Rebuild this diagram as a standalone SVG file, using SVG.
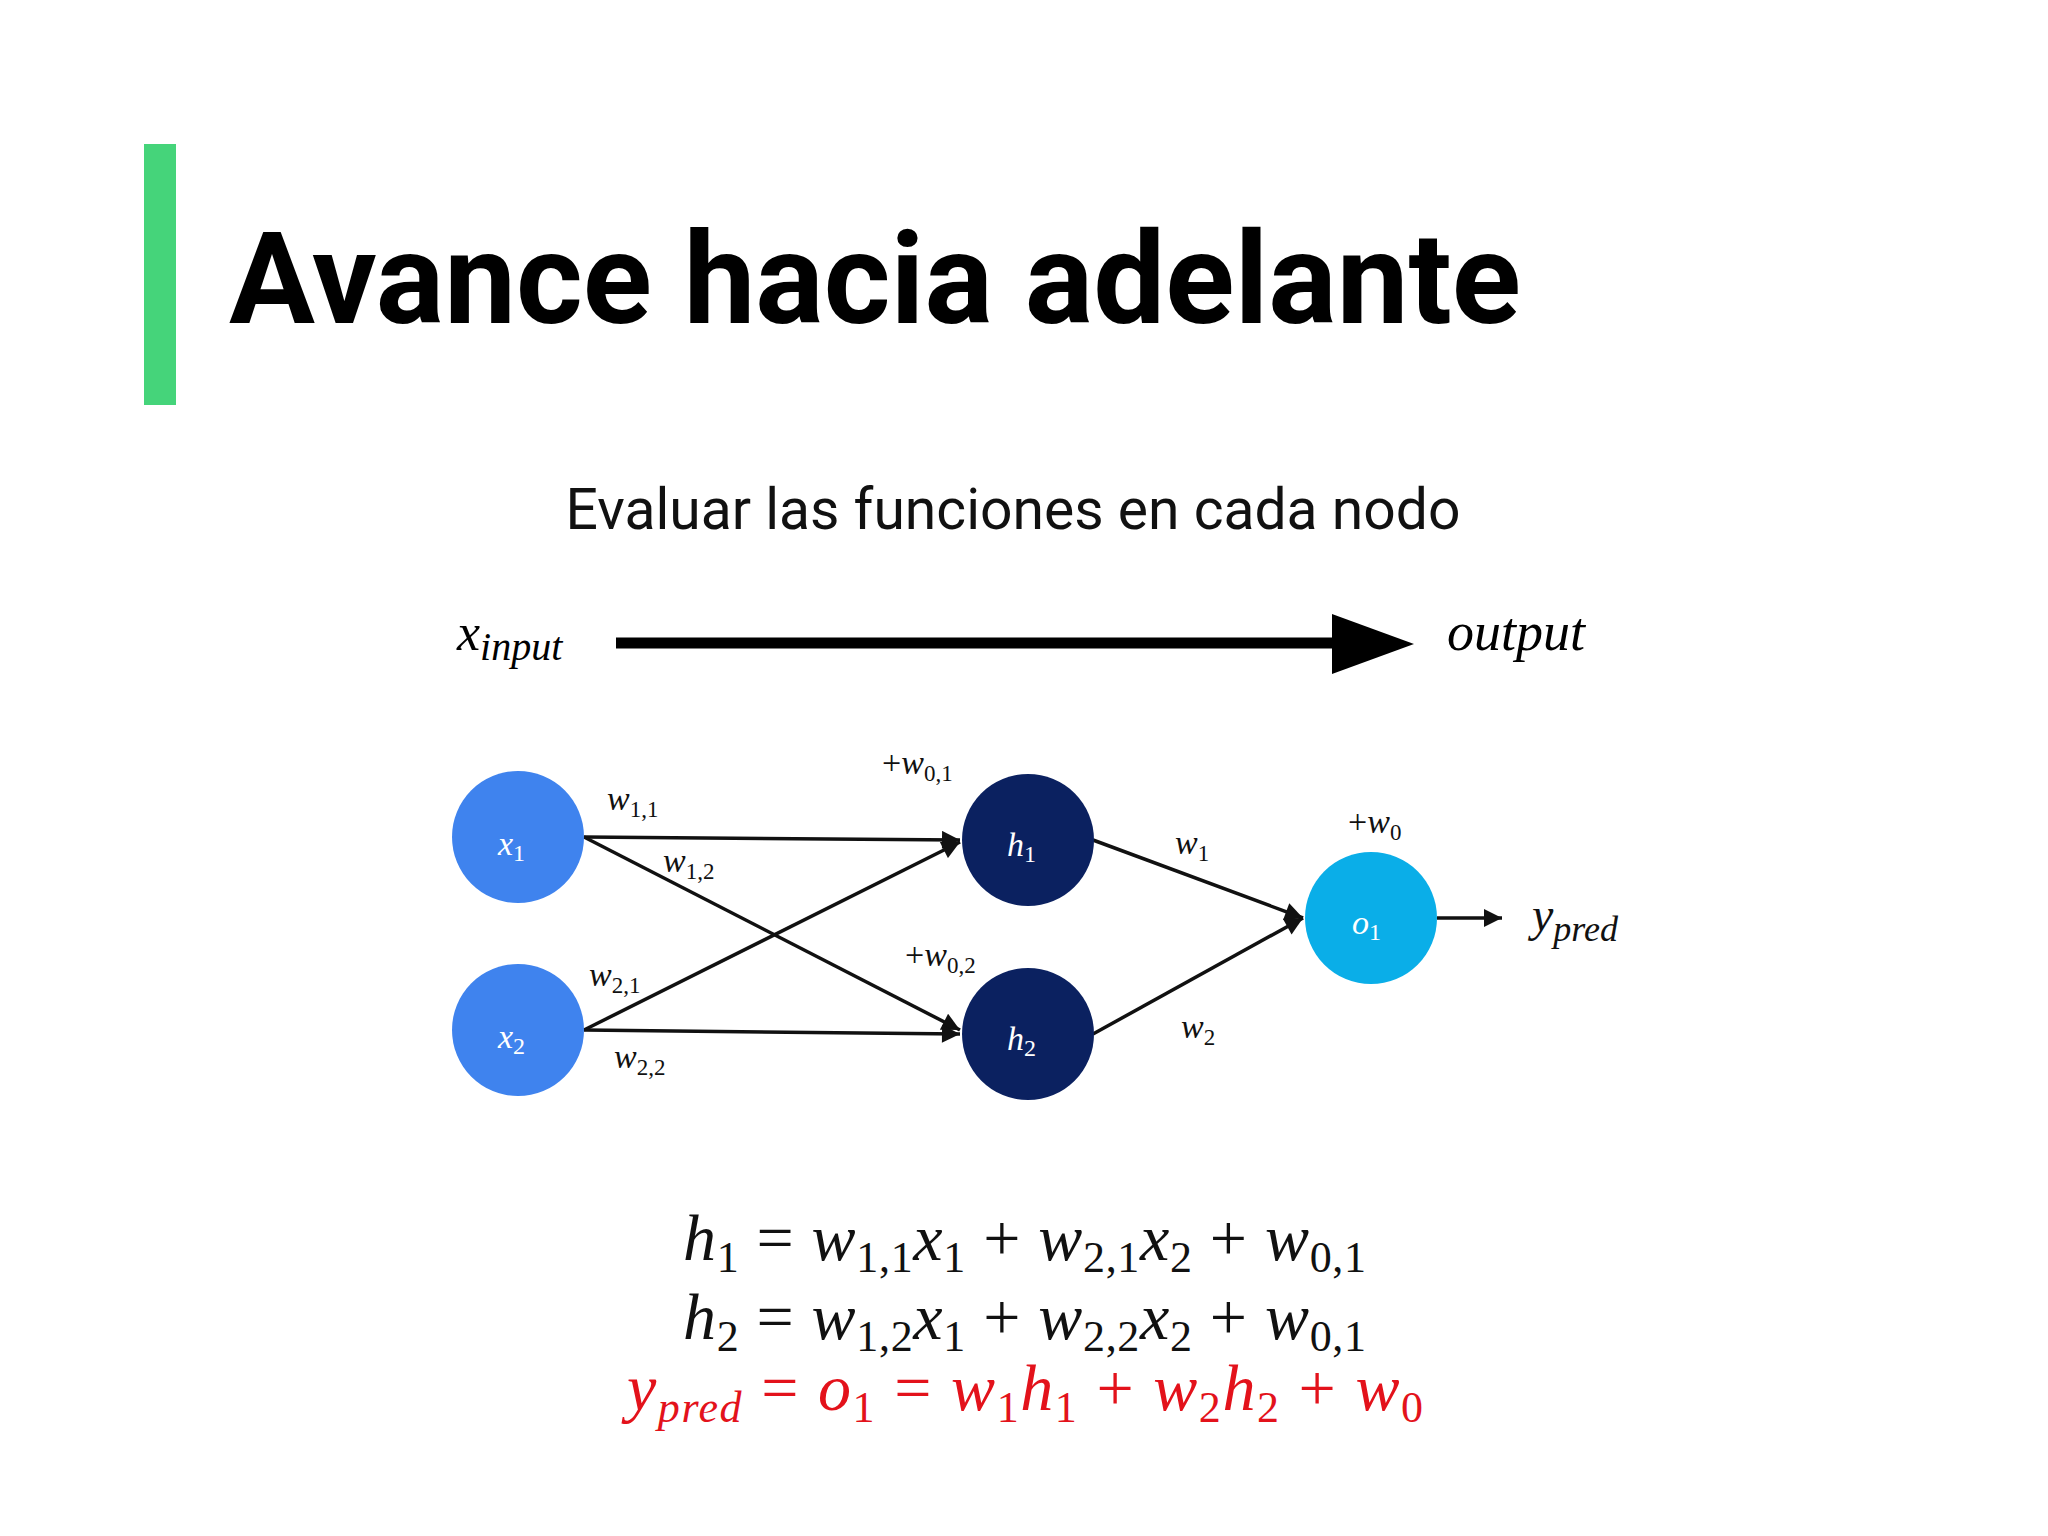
<svg xmlns="http://www.w3.org/2000/svg" width="2048" height="1536" viewBox="0 0 2048 1536">
<style>
.m{font-family:"Liberation Serif","DejaVu Serif",serif;font-style:italic}
.n{font-style:normal}
.lbl{font-size:34px;fill:#111}
.nl{font-size:34px;fill:#fff}
.eq{font-size:66px;fill:#111}
.e{stroke:#111;stroke-width:3.5;fill:none;marker-end:url(#ah)}
</style>
<defs>
<marker id="ah" viewBox="0 0 10 10" refX="10" refY="5" markerWidth="20" markerHeight="18" markerUnits="userSpaceOnUse" orient="auto"><path d="M0,0L10,5L0,10z" fill="#111"/></marker>
</defs>
<rect width="2048" height="1536" fill="#fff"/>
<rect x="144" y="144" width="32" height="261" fill="#45d47a"/>
<text x="229" y="323" font-family="Roboto,'Liberation Sans',sans-serif" font-weight="bold" font-size="128" fill="#000">Avance hacia adelante</text>
<text x="1013" y="529" text-anchor="middle" font-family="Roboto,'Liberation Sans',sans-serif" font-size="57" fill="#111">Evaluar las funciones en cada nodo</text>
<text x="457" y="650" class="m" font-size="52">x<tspan font-size="40" dy="10">input</tspan></text>
<line x1="616" y1="643" x2="1340" y2="643" stroke="#000" stroke-width="11"/>
<path d="M1332,614L1414,644L1332,674z" fill="#000"/>
<text x="1447" y="650" class="m" font-size="54">output</text>
<g id="connectors">
<line class="e" x1="584" y1="837" x2="960" y2="840"/>
<line class="e" x1="584" y1="837" x2="960" y2="1030"/>
<line class="e" x1="584" y1="1030" x2="960" y2="842"/>
<line class="e" x1="584" y1="1030" x2="960" y2="1034"/>
<line class="e" x1="1093" y1="840" x2="1303" y2="918"/>
<line class="e" x1="1093" y1="1034" x2="1303" y2="918"/>
<line class="e" x1="1437" y1="918" x2="1502" y2="918"/>
</g>
<g class="m lbl">
<text x="607" y="810">w<tspan class="n" font-size="23" dy="7">1,1</tspan></text>
<text x="663" y="872">w<tspan class="n" font-size="23" dy="7">1,2</tspan></text>
<text x="589" y="986">w<tspan class="n" font-size="23" dy="7">2,1</tspan></text>
<text x="614" y="1068">w<tspan class="n" font-size="23" dy="7">2,2</tspan></text>
<text x="882" y="774"><tspan class="n">+</tspan>w<tspan class="n" font-size="23" dy="7">0,1</tspan></text>
<text x="905" y="966"><tspan class="n">+</tspan>w<tspan class="n" font-size="23" dy="7">0,2</tspan></text>
<text x="1175" y="854">w<tspan class="n" font-size="23" dy="7">1</tspan></text>
<text x="1181" y="1038">w<tspan class="n" font-size="23" dy="7">2</tspan></text>
<text x="1348" y="833"><tspan class="n">+</tspan>w<tspan class="n" font-size="23" dy="7">0</tspan></text>
<text x="1532" y="931" font-size="48">y<tspan font-size="36" dy="10">pred</tspan></text>
</g>
<g id="x1"><circle cx="518" cy="837" r="66" fill="#3f83ee"/><text class="m nl" x="498" y="855">x<tspan class="n" font-size="24" dy="6">1</tspan></text></g>
<g id="x2"><circle cx="518" cy="1030" r="66" fill="#3f83ee"/><text class="m nl" x="498" y="1048">x<tspan class="n" font-size="24" dy="6">2</tspan></text></g>
<g id="h1"><circle cx="1028" cy="840" r="66" fill="#0b2160"/><text class="m nl" x="1007" y="856">h<tspan class="n" font-size="24" dy="6">1</tspan></text></g>
<g id="h2"><circle cx="1028" cy="1034" r="66" fill="#0b2160"/><text class="m nl" x="1007" y="1050">h<tspan class="n" font-size="24" dy="6">2</tspan></text></g>
<g id="o1"><circle cx="1371" cy="918" r="66" fill="#0aaee8"/><text class="m nl" x="1352" y="934">o<tspan class="n" font-size="24" dy="6">1</tspan></text></g>
<g class="m eq">
<text x="683" y="1260" textLength="683">h<tspan class="n" font-size="44" dy="12">1</tspan><tspan class="n" dy="-12"> = </tspan>w<tspan class="n" font-size="44" dy="12">1,1</tspan><tspan dy="-12">x</tspan><tspan class="n" font-size="44" dy="12">1</tspan><tspan class="n" dy="-12"> + </tspan>w<tspan class="n" font-size="44" dy="12">2,1</tspan><tspan dy="-12">x</tspan><tspan class="n" font-size="44" dy="12">2</tspan><tspan class="n" dy="-12"> + </tspan>w<tspan class="n" font-size="44" dy="12">0,1</tspan></text>
<text x="683" y="1339" textLength="683">h<tspan class="n" font-size="44" dy="12">2</tspan><tspan class="n" dy="-12"> = </tspan>w<tspan class="n" font-size="44" dy="12">1,2</tspan><tspan dy="-12">x</tspan><tspan class="n" font-size="44" dy="12">1</tspan><tspan class="n" dy="-12"> + </tspan>w<tspan class="n" font-size="44" dy="12">2,2</tspan><tspan dy="-12">x</tspan><tspan class="n" font-size="44" dy="12">2</tspan><tspan class="n" dy="-12"> + </tspan>w<tspan class="n" font-size="44" dy="12">0,1</tspan></text>
<text x="627" y="1410" textLength="796" fill="#e3121b">y<tspan font-size="44" dy="12">pred</tspan><tspan class="n" dy="-12"> = </tspan>o<tspan class="n" font-size="44" dy="12">1</tspan><tspan class="n" dy="-12"> = </tspan>w<tspan class="n" font-size="44" dy="12">1</tspan><tspan dy="-12">h</tspan><tspan class="n" font-size="44" dy="12">1</tspan><tspan class="n" dy="-12"> + </tspan>w<tspan class="n" font-size="44" dy="12">2</tspan><tspan dy="-12">h</tspan><tspan class="n" font-size="44" dy="12">2</tspan><tspan class="n" dy="-12"> + </tspan>w<tspan class="n" font-size="44" dy="12">0</tspan></text>
</g>
</svg>
